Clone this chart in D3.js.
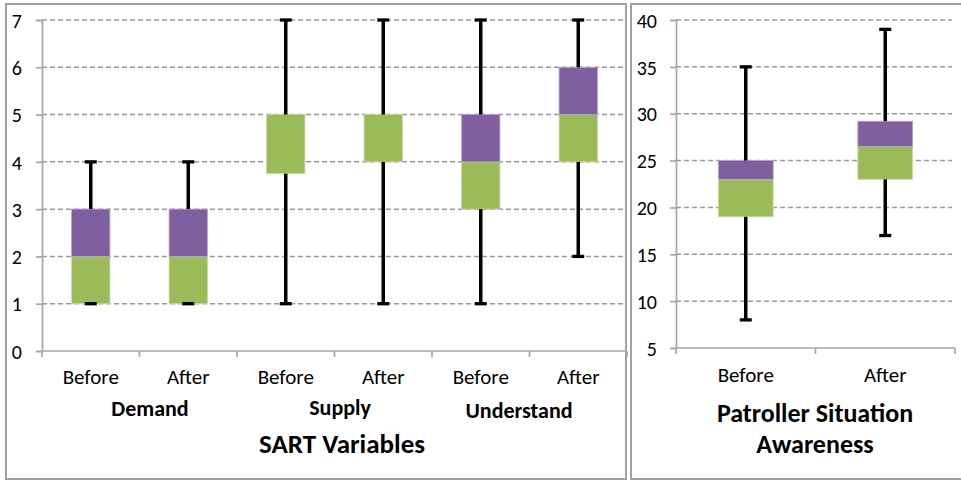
<!DOCTYPE html>
<html><head><meta charset="utf-8">
<script src="https://cdn.jsdelivr.net/npm/d3@7"></script>
<style>
body{margin:0;background:#fff;}
text{font-family:Carlito,Calibri,Lato,sans-serif;fill:#000;}
</style></head>
<body>
<svg id="chart" width="961" height="481"></svg>
<script>
// ---- Data ----
const sartCategories = ["Before","After","Before","After","Before","After"];
const sartGroups = ["Demand","Supply","Understand"];
const sartMin    = [1, 1, 1,    1, 1, 2];
const sartQ1     = [1, 1, 3.75, 4, 3, 4];
const sartMedian = [2, 2, 5,    5, 4, 5];
const sartQ3     = [3, 3, 5,    5, 5, 6];
const sartMax    = [4, 4, 7,    7, 7, 7];
const sartTicks  = [0,1,2,3,4,5,6,7];
const sartTitle  = "SART Variables";

const psaCategories = ["Before","After"];
const psaMin    = [8, 17];
const psaQ1     = [19, 23];
const psaMedian = [23, 26.5];
const psaQ3     = [25, 29.2];
const psaMax    = [35, 39];
const psaTicks  = [5,10,15,20,25,30,35,40];
const psaTitle  = ["Patroller Situation","Awareness"];

const GREEN = "#9BBB59", PURPLE = "#7F5F9F", GRID = "#9a9a9a", AXIS = "#a6a6a6";

const svg = d3.select("#chart");

// panel borders
svg.append("rect").attr("x",6).attr("y",4).attr("width",620).attr("height",475)
  .attr("fill","none").attr("stroke","#a0a0a0").attr("stroke-width",2);
svg.append("rect").attr("x",631).attr("y",4).attr("width",332).attr("height",475)
  .attr("fill","none").attr("stroke","#a0a0a0").attr("stroke-width",2);

function panel(opts){
  const {cats,mn,q1,md,q3,mx,ticks,xRange,yRange,yDomain,labelRight,catBaseline} = opts;
  const g = svg.append("g");
  const x = d3.scaleBand().domain(d3.range(cats.length)).range(xRange)
    .paddingInner(0.607).paddingOuter(0.3035);
  const y = d3.scaleLinear().domain(yDomain).range(yRange);
  const step = x.step();

  // gridlines
  g.append("g").selectAll("line").data(ticks.slice(1)).join("line")
    .attr("x1",xRange[0]).attr("x2",xRange[1]-3)
    .attr("y1",d=>y(d)).attr("y2",d=>y(d))
    .attr("stroke",GRID).attr("stroke-width",1.5).attr("stroke-dasharray","5,3");

  // y axis
  const ya = g.append("g").attr("transform",`translate(${xRange[0]},0)`)
    .call(d3.axisLeft(y).tickValues(ticks).tickSize(6).tickPadding(14).tickFormat(d3.format("d")));
  ya.select(".domain").attr("stroke",AXIS).attr("stroke-width",1.7);
  ya.selectAll(".tick line").attr("stroke",AXIS).attr("stroke-width",1.7);
  ya.selectAll(".tick text").attr("x",labelRight - xRange[0]).attr("dy","0.36em")
    .style("font-size","20px").style("font-family","Carlito,Calibri,Lato,sans-serif");

  // x axis
  const xa = g.append("g").attr("transform",`translate(0,${yRange[0]})`);
  xa.append("line").attr("x1",xRange[0]).attr("x2",xRange[1]).attr("y1",0).attr("y2",0)
    .attr("stroke",AXIS).attr("stroke-width",1.7);
  xa.selectAll("line.tk").data(d3.range(cats.length+1)).join("line").attr("class","tk")
    .attr("x1",i=>xRange[0]+i*step).attr("x2",i=>xRange[0]+i*step)
    .attr("y1",0).attr("y2",6).attr("stroke",AXIS).attr("stroke-width",1.7);
  g.append("g").selectAll("text").data(cats).join("text")
    .attr("x",(d,i)=>x(i)+x.bandwidth()/2).attr("y",catBaseline)
    .attr("text-anchor","middle").style("font-size","21px").text(d=>d);

  // boxes
  const bw = x.bandwidth();
  g.append("g").selectAll("rect").data(cats).join("rect")
    .attr("x",(d,i)=>x(i)).attr("width",bw)
    .attr("y",(d,i)=>y(md[i])).attr("height",(d,i)=>y(q1[i])-y(md[i]))
    .attr("fill",GREEN).attr("stroke","#c9dba6").attr("stroke-width",0.8);
  g.append("g").selectAll("rect").data(cats).join("rect")
    .attr("x",(d,i)=>x(i)).attr("width",bw)
    .attr("y",(d,i)=>y(q3[i])).attr("height",(d,i)=>y(md[i])-y(q3[i]))
    .attr("fill",PURPLE).attr("stroke","#b7a6cb").attr("stroke-width",0.8);

  // whiskers
  const wg = g.append("g").attr("stroke","#000");
  cats.forEach((c,i)=>{
    const cx = x(i)+bw/2;
    if (mx[i] > q3[i]) wg.append("line").attr("x1",cx).attr("x2",cx)
      .attr("y1",y(q3[i])).attr("y2",y(mx[i])).attr("stroke-width",3.5);
    if (mn[i] < q1[i]) wg.append("line").attr("x1",cx).attr("x2",cx)
      .attr("y1",y(q1[i])).attr("y2",y(mn[i])).attr("stroke-width",3.5);
    [mx[i], mn[i]].forEach(v=>{
      wg.append("line").attr("x1",cx-6).attr("x2",cx+6)
        .attr("y1",y(v)).attr("y2",y(v)).attr("stroke-width",3.3);
    });
  });
  return {x,y};
}

panel({cats:sartCategories,mn:sartMin,q1:sartQ1,md:sartMedian,q3:sartQ3,mx:sartMax,
  ticks:sartTicks,xRange:[42,627],yRange:[351,20],yDomain:[0,7],labelRight:22,catBaseline:384});
panel({cats:psaCategories,mn:psaMin,q1:psaQ1,md:psaMedian,q3:psaQ3,mx:psaMax,
  ticks:psaTicks,xRange:[676,955],yRange:[348,20],yDomain:[5,40],labelRight:657,catBaseline:382});

// group labels (left panel)
const groupPos = [[150,416],[340,415],[519,418]];
svg.append("g").selectAll("text").data(sartGroups).join("text")
  .attr("x",(d,i)=>groupPos[i][0]).attr("y",(d,i)=>groupPos[i][1])
  .attr("text-anchor","middle").style("font-size","22px").style("font-weight","bold").text(d=>d);

svg.append("text").attr("x",342).attr("y",453).attr("text-anchor","middle")
  .style("font-size","27px").style("font-weight","bold").text(sartTitle);

svg.append("g").selectAll("text").data(psaTitle).join("text")
  .attr("x",815).attr("y",(d,i)=>[422,453][i]).attr("text-anchor","middle")
  .style("font-size","26px").style("font-weight","bold").text(d=>d);
</script>
</body></html>
